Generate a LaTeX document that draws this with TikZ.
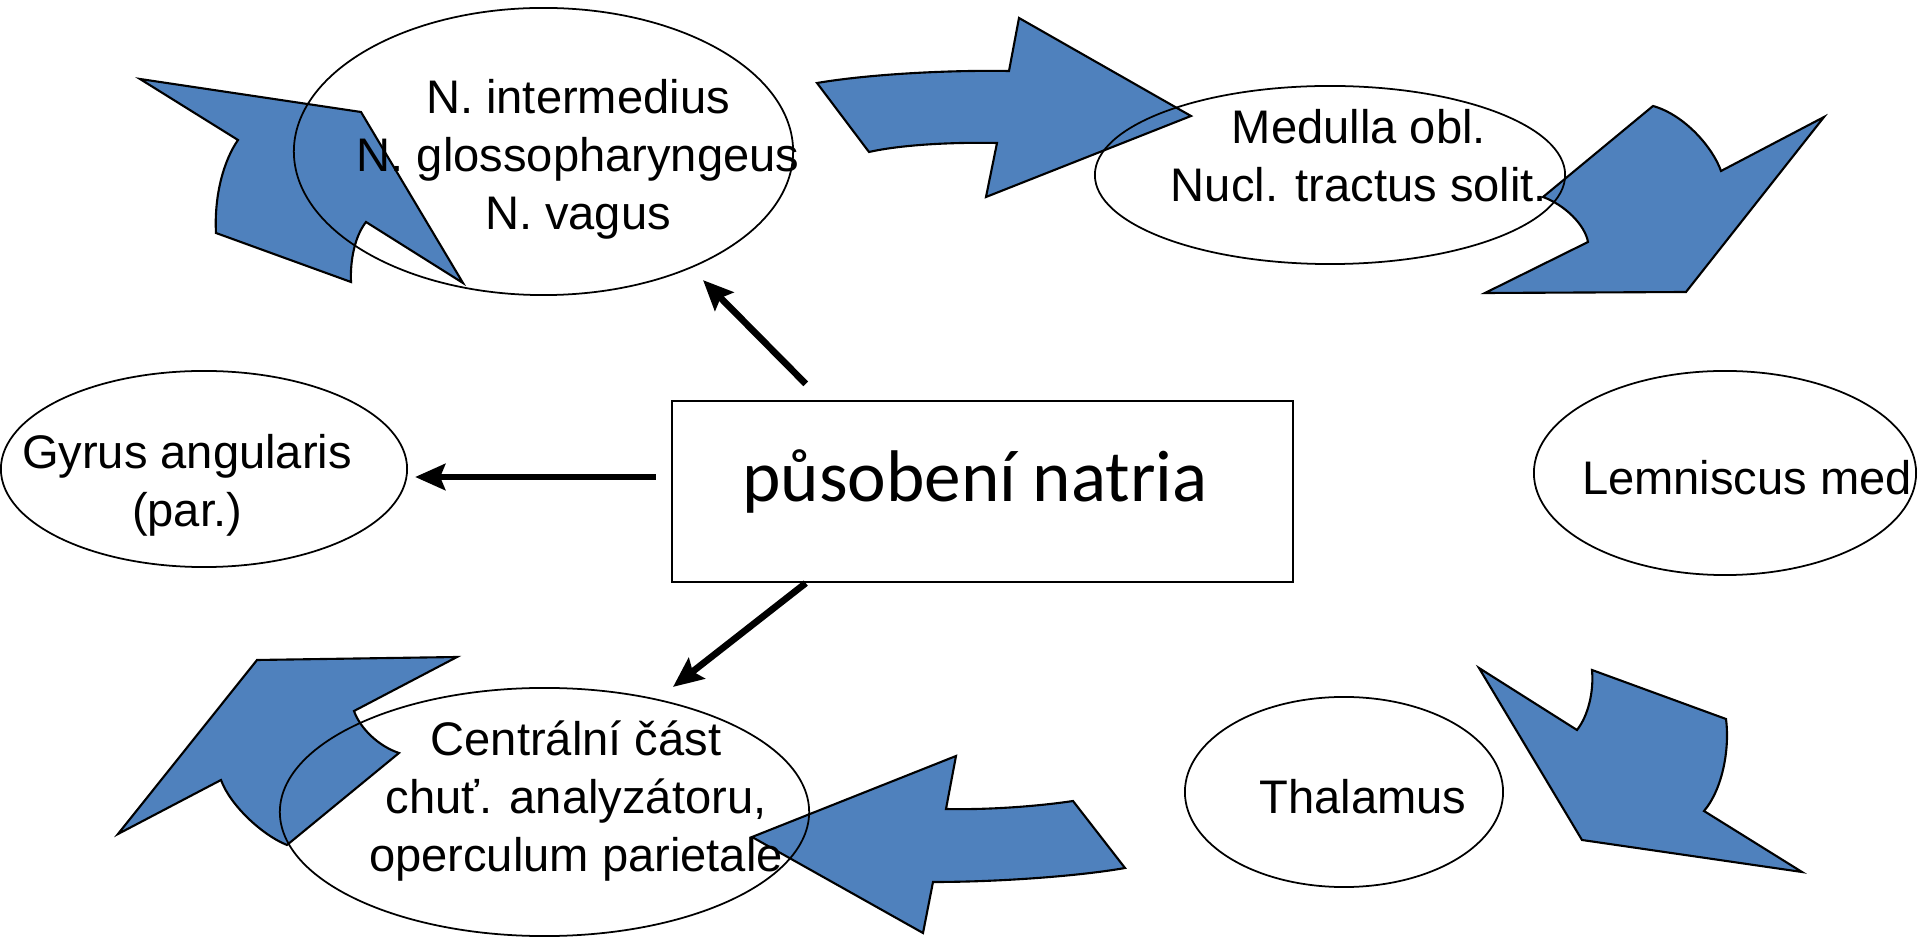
\documentclass[tikz,border=0pt]{standalone}
\usepackage{fontspec}
\setmainfont{Liberation Sans}
\newfontfamily\calibri{Carlito}
\usepackage{tikz}
\usetikzlibrary{shapes.geometric,arrows.meta}
\definecolor{shapeblue}{RGB}{79,129,189}
\newcommand{\ovalnode}[5]{
  \node[ovalbox, minimum width=#4, minimum height=#5] (#1) at (#2,#3) {};
}
\tikzset{
  ovalbox/.style  = {ellipse, draw, line width=0.5pt, inner sep=0pt, outer sep=0pt},
  ovaltext/.style = {font=\fontsize{13.4pt}{16.5pt}\selectfont, align=center, anchor=base, inner sep=0pt},
  bigarrow/.style = {fill=shapeblue, draw=black, line width=0.6pt},
  link/.style     = {-{Stealth[length=0.3cm,width=0.26cm,inset=0.05cm]}, line width=1.9pt}
}

\begin{document}
\begin{tikzpicture}[x=0.01cm, y=-0.01cm]
	\useasboundingbox (0,0) rectangle (1920,943);
	\filldraw[bigarrow] (140,79) -- (361,112) -- (463,283) -- (366,222)
		.. controls (355,236) and (350,260) .. (351,282) -- (216,233)
		.. controls (214,195) and (224,160) .. (238,140) -- cycle;
	\filldraw[bigarrow] (817,83) .. controls (870,74) and (950,70) .. (1009,71)
		-- (1019,18) -- (1191,116) -- (986,197) -- (997,143)
		.. controls (950,142) and (900,145) .. (869,152) -- cycle;
	\filldraw[bigarrow] (1543,197) -- (1653,106)
		.. controls (1685,115) and (1713,148) .. (1721,171)
		-- (1824,117) -- (1686,292) -- (1485,293) -- (1588,242)
		.. controls (1585,225) and (1565,205) .. (1543,197) -- cycle;
	\filldraw[bigarrow] (1479,668) -- (1577,730)
		.. controls (1588,716) and (1594,692) .. (1592,670) -- (1726,719)
		.. controls (1730,750) and (1722,790) .. (1704,811)
		-- (1802,872) -- (1582,840) -- cycle;
	\filldraw[bigarrow] (752,837) -- (956,756) -- (946,809)
		.. controls (990,810) and (1040,806) .. (1073,801) -- (1125,868)
		.. controls (1080,876) and (1000,882) .. (933,882) -- (923,933) -- cycle;
	\filldraw[bigarrow] (257,660) -- (457,657) -- (354,711)
		.. controls (360,728) and (378,746) .. (399,753) -- (287,845)
		.. controls (262,835) and (230,805) .. (221,780) -- (118,834) -- cycle;
	\ovalnode{nerv}{543.5}{151.5}{4.99cm}{2.87cm}
	\ovalnode{medulla}{1330}{175}{4.70cm}{1.78cm}
	\ovalnode{lemnisk}{1725}{473}{3.82cm}{2.04cm}
	\ovalnode{thalam}{1344}{792}{3.18cm}{1.90cm}
	\ovalnode{centr}{544.5}{812}{5.29cm}{2.48cm}
	\ovalnode{gyrus}{204}{469}{4.06cm}{1.96cm}
	\node[ovaltext] (nerv-t) at (578,230) {N. intermedius\\N. glossopharyngeus\\N. vagus};
	\node[ovaltext] (medulla-t) at (1359,202) {Medulla obl.\\Nucl. tractus solit.};
	\node[ovaltext] (lemnisk-t) at (1747,495) {Lemniscus med};
	\node[ovaltext] (thalam-t) at (1363,814) {Thalamus};
	\node[ovaltext] (centr-t) at (576,872) {Centrální část\\chuť. analyzátoru,\\operculum parietale};
	\node[ovaltext] (gyrus-t) at (187,527) {Gyrus angularis\\(par.)};
	\node[draw, line width=0.6pt, minimum width=6.21cm, minimum height=1.81cm, inner sep=0pt] (natrium) at (982.5,491.5) {};
	\node[anchor=base, inner sep=0pt, font=\calibri\fontsize{20.8pt}{25pt}\selectfont] (natrium-t) at (975,502) {působení natria};
	\draw[link] ([shift={(135,-16)}]natrium.north west) -- ([shift={(159.5,-15)}]nerv.south);
	\draw[link] ([shift={(-15,-14.5)}]natrium.west) -- ([shift={(8,8)}]gyrus.east);
	\draw[link] ([shift={(135,0)}]natrium.south west) -- ([shift={(128.5,-1)}]centr.north);
\end{tikzpicture}
\end{document}
